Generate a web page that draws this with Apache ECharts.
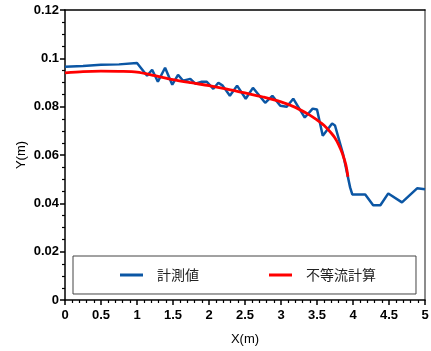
<!DOCTYPE html>
<html><head><meta charset="utf-8">
<script src="https://cdn.jsdelivr.net/npm/echarts@6/dist/echarts.min.js"></script>
<style>html,body{margin:0;padding:0;background:#fff}#c{width:431px;height:351px}</style>
</head><body><div id="c"></div>
<script>
const measX = [0, 0.25, 0.5, 0.75, 1.0, 1.14, 1.21, 1.29, 1.39, 1.49, 1.57, 1.64, 1.74, 1.81, 1.90, 1.97, 2.06, 2.13, 2.19, 2.29, 2.39, 2.51, 2.61, 2.78, 2.88, 2.99, 3.08, 3.17, 3.33, 3.44, 3.50, 3.58, 3.71, 3.75, 3.86, 3.96, 3.99, 4.17, 4.28, 4.38, 4.49, 4.68, 4.89, 5.0];
const measY = [0.0965, 0.0968, 0.0973, 0.0975, 0.0981, 0.0928, 0.0953, 0.0903, 0.0961, 0.0891, 0.0932, 0.0907, 0.0915, 0.0895, 0.0903, 0.0903, 0.0874, 0.0899, 0.0887, 0.0845, 0.0887, 0.0833, 0.0878, 0.0816, 0.0845, 0.0804, 0.0800, 0.0833, 0.0755, 0.0792, 0.0788, 0.0680, 0.0730, 0.0722, 0.0606, 0.0466, 0.0437, 0.0437, 0.0392, 0.0392, 0.0441, 0.0404, 0.0462, 0.0458];
const calcX = [0, 0.25, 0.5, 0.75, 1.0, 1.25, 1.5, 1.75, 2.0, 2.25, 2.5, 2.75, 3.0, 3.2, 3.4, 3.5, 3.6, 3.7, 3.75, 3.8, 3.85, 3.9, 3.93];
const calcY = [0.0940, 0.0945, 0.0947, 0.0946, 0.0943, 0.0928, 0.0912, 0.0899, 0.0887, 0.0873, 0.0857, 0.0840, 0.0820, 0.0797, 0.0765, 0.0745, 0.0722, 0.0690, 0.0670, 0.0643, 0.0608, 0.0560, 0.0510];
const xTicks = [0, 0.5, 1, 1.5, 2, 2.5, 3, 3.5, 4, 4.5, 5];
const yTicks = [0, 0.02, 0.04, 0.06, 0.08, 0.1, 0.12];
const names = ['計測値', '不等流計算'];

const chart = echarts.init(document.getElementById('c'));
const lbl = {fontFamily:'Liberation Sans', fontWeight:'bold', fontSize:13, color:'#000'};
chart.setOption({
  animation:false,
  grid:{left:65, right:6, top:10, bottom:51, show:false, outerBoundsMode:'none', containLabel:false},
  legend:{
    data:names.map(n=>({name:n, icon:'rect'})),
    left:73, top:256, itemWidth:23, itemHeight:3, itemGap:70,
    padding:[12,40,12,47],
    borderColor:'#444', borderWidth:1, backgroundColor:'#fff', borderRadius:0,
    textStyle:{fontFamily:'Noto Sans CJK JP', fontSize:14, color:'#222', padding:[0,0,0,9]}
  },
  xAxis:[{
    type:'value', min:0, max:5, interval:0.5,
    name:'X(m)', nameLocation:'middle', nameGap:33, nameMoveOverlap:false,
    nameTextStyle:{fontFamily:'Liberation Sans', fontSize:13, color:'#000'},
    axisLine:{show:true, lineStyle:{color:'#000', width:1.5}},
    axisTick:{show:true, length:5, lineStyle:{color:'#000', width:1.5}},
    minorTick:{show:true, splitNumber:5, length:3, lineStyle:{color:'#000', width:1.2}},
    axisLabel:{...lbl, margin:9, formatter:v=>String(xTicks.find(t=>Math.abs(t-v)<1e-9) ?? v)},
    splitLine:{show:false}
  },{
    type:'value', min:0, max:5, position:'top',
    axisLine:{show:true, onZero:false, lineStyle:{color:'#000', width:1.5}},
    axisTick:{show:false}, axisLabel:{show:false}, splitLine:{show:false}
  }],
  yAxis:[{
    type:'value', min:0, max:0.12, interval:0.02,
    name:'Y(m)', nameLocation:'middle', nameGap:37, nameRotate:90, nameMoveOverlap:false,
    nameTextStyle:{fontFamily:'Liberation Sans', fontSize:13, color:'#000'},
    axisLine:{show:true, lineStyle:{color:'#000', width:1.5}},
    axisTick:{show:true, length:5, lineStyle:{color:'#000', width:1.5}},
    minorTick:{show:true, splitNumber:4, length:3, lineStyle:{color:'#000', width:1.2}},
    axisLabel:{...lbl, margin:6, formatter:v=>{const t=yTicks.find(t=>Math.abs(t-v)<1e-9); return t===undefined?'':String(t);}},
    splitLine:{show:false}
  },{
    type:'value', min:0, max:0.12, position:'right',
    axisLine:{show:true, onZero:false, lineStyle:{color:'#666', width:1.5}},
    axisTick:{show:false}, axisLabel:{show:false}, splitLine:{show:false}
  }],
  series:[
    {name:names[0], type:'line', data:measX.map((x,i)=>[x,measY[i]]), showSymbol:false, symbol:'none',
     lineStyle:{color:'#0b56a4', width:2.5}, itemStyle:{color:'#0b56a4'}},
    {name:names[1], type:'line', data:calcX.map((x,i)=>[x,calcY[i]]), showSymbol:false, symbol:'none', smooth:0.3,
     lineStyle:{color:'#ff0000', width:2.8}, itemStyle:{color:'#ff0000'}}
  ]
});
</script></body></html>
